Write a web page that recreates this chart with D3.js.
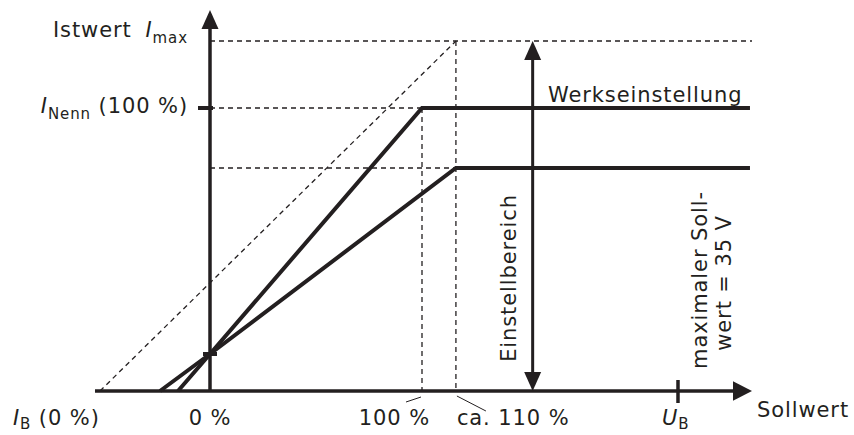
<!DOCTYPE html>
<html><head><meta charset="utf-8">
<script src="https://cdn.jsdelivr.net/npm/d3@7"></script>
<style>
html,body{margin:0;padding:0;background:#fff;}
text{font-family:"DejaVu Sans",sans-serif;font-size:21px;fill:#231f20;letter-spacing:0.9px;}
</style></head><body>
<svg id="c" width="854" height="435"></svg>
<script>
// ---- data (Sollwert in %, Istwert in % of I_Nenn) ----
const lineWerk = [[-15.1, 0], [0, 13.07], [100, 100], [254.7, 100]];
const lineLow  = [[-23.6, 0], [0, 13.07], [116, 78.8], [254.7, 78.8]];
const diagMax  = [[-51.9, 0], [116, 123.67]];
const iMax = 123.67, iNenn = 100, iB = 13.07, iLow = 78.8;
const xNenn = 100, xCa110 = 116, xEinst = 152.2, xUB = 220.75;
const xAxisRange = [-54.25, 255.66];
const yAxisTop = 134.6;
const xLabels = ["0 %", "100 %", "ca. 110 %"];

const svg = d3.select("#c");
const x = d3.scaleLinear().domain([0, 100]).range([210, 422]);
const y = d3.scaleLinear().domain([0, 100]).range([391, 108]);
const ink = "#231f20";
const line = d3.line().x(d => x(d[0])).y(d => y(d[1]));

function dashed(pts) {
  svg.append("path").attr("d", line(pts)).attr("fill", "none")
    .attr("stroke", ink).attr("stroke-width", 1.3).attr("stroke-dasharray", "5,4");
}
// dashed guides
dashed([[0, iMax], [xAxisRange[1], iMax]]);
dashed([[0, iNenn], [xNenn, iNenn]]);
dashed([[0, iLow], [xCa110, iLow]]);
dashed([[xNenn, iNenn], [xNenn, 0]]);
dashed([[xCa110, iMax], [xCa110, 0]]);
dashed(diagMax);

function arrowHead(tx, ty, dir) { // dir: 'up','down','right'
  const L = 19, W = 8.5;
  let p;
  if (dir === "up") p = [[tx, ty], [tx - W, ty + L], [tx + W, ty + L]];
  if (dir === "down") p = [[tx, ty], [tx - W, ty - L], [tx + W, ty - L]];
  if (dir === "right") p = [[tx, ty], [tx - L, ty - W * 1.15], [tx - L, ty + W * 1.15]];
  svg.append("path").attr("d", "M" + p.map(q => q.join(",")).join("L") + "Z").attr("fill", ink);
}

// axes
svg.append("line").attr("x1", x(xAxisRange[0])).attr("x2", x(xAxisRange[1]) - 15)
  .attr("y1", y(0)).attr("y2", y(0)).attr("stroke", ink).attr("stroke-width", 3.5);
arrowHead(x(xAxisRange[1]), y(0), "right");
svg.append("line").attr("x1", x(0)).attr("x2", x(0))
  .attr("y1", y(0)).attr("y2", y(yAxisTop) + 15).attr("stroke", ink).attr("stroke-width", 3.5);
arrowHead(x(0), y(yAxisTop), "up");

// ticks
svg.append("line").attr("x1", x(0) - 12).attr("x2", x(0) + 3).attr("y1", y(iNenn)).attr("y2", y(iNenn))
  .attr("stroke", ink).attr("stroke-width", 4);
svg.append("line").attr("x1", x(0) - 7).attr("x2", x(0) + 7).attr("y1", y(iB)).attr("y2", y(iB))
  .attr("stroke", ink).attr("stroke-width", 4);
svg.append("line").attr("x1", x(xUB)).attr("x2", x(xUB)).attr("y1", y(0) - 11).attr("y2", y(0) + 12)
  .attr("stroke", ink).attr("stroke-width", 3.5);

// characteristic lines
[lineWerk, lineLow].forEach(pts => {
  svg.append("path").attr("d", line(pts)).attr("fill", "none").attr("stroke", ink)
    .attr("stroke-width", 4).attr("stroke-linejoin", "miter");
});

// Einstellbereich double arrow
svg.append("line").attr("x1", x(xEinst)).attr("x2", x(xEinst))
  .attr("y1", y(iMax) + 15).attr("y2", y(0) - 15).attr("stroke", ink).attr("stroke-width", 3);
arrowHead(x(xEinst), y(iMax), "up");
arrowHead(x(xEinst), y(0), "down");

// leader lines
svg.append("line").attr("x1", x(xNenn) - 16).attr("y1", y(0) + 11).attr("x2", x(xNenn) - 1).attr("y2", y(0) + 6)
  .attr("stroke", ink).attr("stroke-width", 1);
svg.append("line").attr("x1", x(xCa110) + 1).attr("y1", y(0) + 5).attr("x2", x(xCa110) + 30).attr("y2", y(0) + 20)
  .attr("stroke", ink).attr("stroke-width", 1);

// texts
function label(tx, ty, parts, anchor) {
  const t = svg.append("text").attr("x", tx).attr("y", ty).attr("text-anchor", anchor || "start");
  parts.forEach(p => {
    const s = t.append("tspan").text(p.t);
    if (p.i) s.attr("font-style", "italic");
    if (p.sub) s.attr("font-size", 15).attr("dy", p.sub);
    if (p.up) s.attr("dy", -p.up);
  });
  return t;
}
label(53, 37, [{t: "Istwert"}]);
label(188, 37, [{t: "I", i: true}, {t: "max", sub: 6}], "end");
label(188, 113, [{t: "I", i: true}, {t: "Nenn", sub: 6}, {t: " (100 %)", up: 6}], "end");
label(13, 425, [{t: "I", i: true}, {t: "B", sub: 4}, {t: " (0 %)", up: 4}]);
label(x(0), 425, [{t: xLabels[0]}], "middle");
label(x(xNenn) + 8, 425, [{t: xLabels[1]}], "end");
label(x(xCa110) + 1, 425, [{t: xLabels[2]}]);
label(x(xUB) - 16, 425, [{t: "U", i: true}, {t: "B", sub: 4}]);
label(757, 417, [{t: "Sollwert"}]);
label(548, 102, [{t: "Werkseinstellung"}]);

svg.append("text").attr("transform", `translate(${x(xEinst) - 17},${(y(0) + y(iMax)) / 2 + 62}) rotate(-90)`)
  .attr("text-anchor", "middle").text("Einstellbereich");
svg.append("text").attr("transform", `translate(${x(xUB) + 29},280) rotate(-90)`)
  .attr("text-anchor", "middle").text("maximaler Soll-");
svg.append("text").attr("transform", `translate(${x(xUB) + 53},283) rotate(-90)`)
  .attr("text-anchor", "middle").text("wert = 35 V");
</script></body></html>
